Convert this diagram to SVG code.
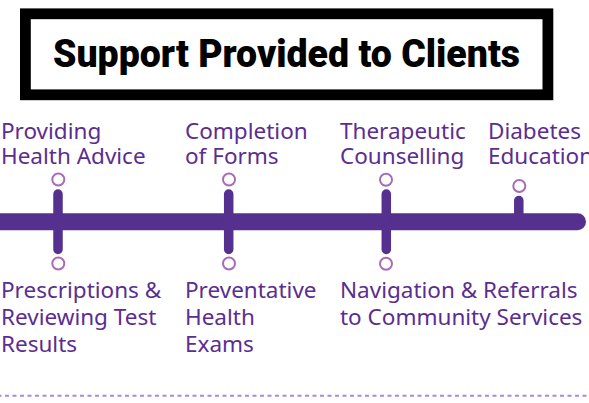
<svg xmlns="http://www.w3.org/2000/svg" width="589" height="403" viewBox="0 0 589 403">
<style>
.lbl{font-family:"Noto Sans","Liberation Sans",sans-serif;font-size:22.5px;fill:#5b2d90}
.tick{stroke:#56308e;stroke-width:9.5;stroke-linecap:round;fill:none}
.dot{fill:#fff;stroke:#a96bb7;stroke-width:2}
</style>
<rect width="589" height="403" fill="#fff"/>
<g id="title">
<rect x="25.4" y="13.8" width="522.5" height="81" fill="#fff" stroke="#000" stroke-width="10.8"/>
<text x="286.5" y="66.5" text-anchor="middle" font-family="Roboto,'Liberation Sans',sans-serif" font-weight="900" font-size="38" textLength="467" lengthAdjust="spacingAndGlyphs" fill="#000">Support Provided to Clients</text>
</g>
<g id="connectors">
<line x1="-10" y1="221.7" x2="577.5" y2="221.7" stroke="#56308e" stroke-width="17" stroke-linecap="round"/>
<line x1="-10" y1="395.7" x2="589" y2="395.7" stroke="#a78bd6" stroke-width="2" stroke-dasharray="4 3.5"/>
</g>
<g id="node-health-advice">
<line class="tick" x1="58" y1="194" x2="58" y2="249.5"/>
<circle class="dot" cx="58.3" cy="179.5" r="6"/>
<text class="lbl" x="1" y="139.3">Providing</text>
<text class="lbl" x="1" y="164.3">Health Advice</text>
</g>
<g id="node-prescriptions">
<circle class="dot" cx="58.3" cy="263.5" r="6"/>
<text class="lbl" x="1" y="298.3">Prescriptions &amp;</text>
<text class="lbl" x="1" y="325">Reviewing Test</text>
<text class="lbl" x="1" y="351.7">Results</text>
</g>
<g id="node-forms">
<line class="tick" x1="228.7" y1="194" x2="228.7" y2="249.5"/>
<circle class="dot" cx="229" cy="179.5" r="6"/>
<text class="lbl" x="185" y="139.3">Completion</text>
<text class="lbl" x="185" y="164.3">of Forms</text>
</g>
<g id="node-preventative">
<circle class="dot" cx="229" cy="263.5" r="6"/>
<text class="lbl" x="185" y="298.3">Preventative</text>
<text class="lbl" x="185" y="325">Health</text>
<text class="lbl" x="185" y="351.7">Exams</text>
</g>
<g id="node-counselling">
<line class="tick" x1="386.3" y1="194" x2="386.3" y2="249.5"/>
<circle class="dot" cx="386" cy="179.8" r="6"/>
<text class="lbl" x="340" y="139.3">Therapeutic</text>
<text class="lbl" x="340" y="164.3">Counselling</text>
</g>
<g id="node-navigation">
<circle class="dot" cx="386" cy="263.8" r="6"/>
<text class="lbl" x="340" y="298.3">Navigation &amp; Referrals</text>
<text class="lbl" x="340" y="325">to Community Services</text>
</g>
<g id="node-diabetes">
<line class="tick" x1="518.8" y1="200.5" x2="518.8" y2="222"/>
<circle class="dot" cx="519.3" cy="186" r="6"/>
<text class="lbl" x="488" y="139.3">Diabetes</text>
<text class="lbl" x="488" y="164.3">Education</text>
</g>
</svg>
